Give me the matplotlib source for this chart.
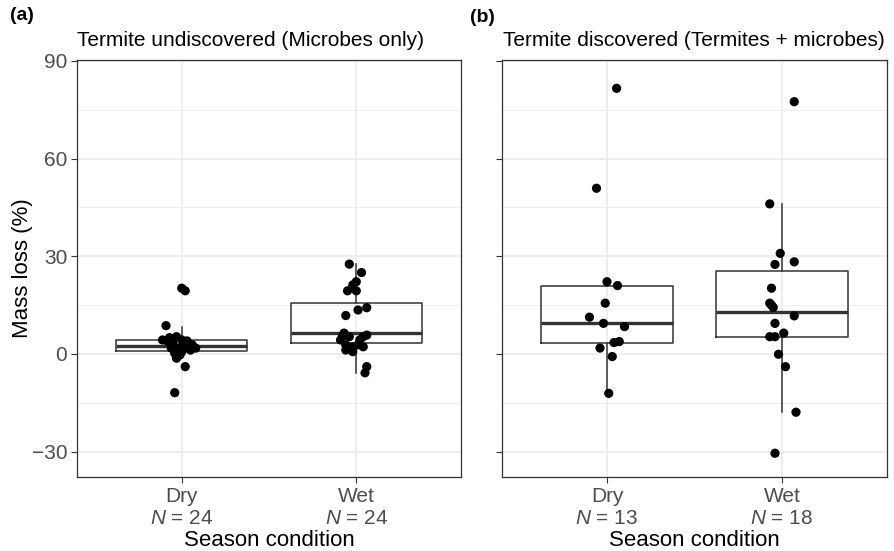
import matplotlib.pyplot as plt
from matplotlib.ticker import MultipleLocator

plt.rcParams['font.family'] = ['Liberation Sans', 'DejaVu Sans']
plt.rcParams['mathtext.fontset'] = 'custom'
plt.rcParams['mathtext.rm'] = 'Liberation Sans'
plt.rcParams['mathtext.it'] = 'Liberation Sans:italic'

# season groups
seasons = ['Dry', 'Wet']
n_a = [24, 24]
n_b = [13, 18]

# panel (a): microbes only, mass loss (%) and horizontal jitter
a_dry = [20.2, 19.4, 8.7, -3.9, -11.9,
         4.3, 5.0, 5.3, 4.3, 3.3, 2.8, 1.8, -0.3, -1.3, 2.8, 3.3, 3.8, 1.8, 1.2, 0.7, 1.8, 1.8, 0.2, 4.0]
a_dry_jit = [0.0, 0.02, -0.09, 0.02, -0.04,
             -0.11, -0.07, -0.03, 0.0, 0.03, 0.06, 0.08, -0.01, -0.03, 0.01, -0.05, -0.08, -0.02, 0.05, 0.0, -0.06, 0.02, -0.04, 0.03]
a_wet = [27.6, 25.0, 22.2, 21.2, 19.4, 19.4, 14.2, 13.5, 11.8, -3.9, -5.8,
         6.4, 4.3, 2.8, 1.2, 2.2, 2.8, 5.3, 4.3, 5.3, 2.2, 0.7, 5.3, 5.8]
a_wet_jit = [-0.04, 0.03, 0.0, -0.02, -0.05, 0.0, 0.06, 0.01, -0.06, 0.06, 0.05,
             -0.07, -0.09, -0.06, -0.06, -0.02, 0.01, 0.04, 0.02, -0.04, 0.04, -0.02, -0.08, 0.06]

# panel (b): termites + microbes
b_dry = [81.6, 50.9, 22.2, 21.0, 15.6, 11.3, 9.4, 8.4, 3.5, 3.8, 1.8, -0.8, -12.1]
b_dry_jit = [0.055, -0.06, 0.0, 0.06, -0.01, -0.10, -0.02, 0.10, 0.04, 0.07, -0.04, 0.03, 0.01]
b_wet = [77.5, 46.1, 30.9, 27.5, 28.3, 20.2, 15.6, 14.3, 15.0, 11.7, 9.4, 5.3, 5.3, 6.4, -0.1, -3.9, -17.9, -30.5]
b_wet_jit = [0.07, -0.07, -0.01, -0.04, 0.07, -0.06, -0.07, -0.05, -0.06, 0.07, -0.04, -0.07, -0.04, 0.01, -0.02, 0.02, 0.08, -0.04]

# box stats: [dry, wet]
a_q1 = [1.0, 3.5]
a_med = [2.5, 6.5]
a_q3 = [4.3, 15.8]
a_lo = [-1.3, -5.8]
a_hi = [8.4, 27.6]
b_q1 = [3.5, 5.3]
b_med = [9.4, 12.8]
b_q3 = [21.0, 25.6]
b_lo = [-12.1, -17.9]
b_hi = [22.2, 46.1]

W, H = 894, 551
fig = plt.figure(figsize=(W / 100, H / 100), dpi=100)
ax_a = fig.add_axes([77 / W, (H - 477) / H, 384 / W, 417 / H])
ax_b = fig.add_axes([502 / W, (H - 477) / H, 385 / W, 417 / H])

grey20 = '#333333'
grey30 = '#4D4D4D'


def draw_panel(ax, groups, jits, q1, med, q3, lo, hi, ns):
    stats = []
    for i in range(2):
        stats.append(dict(q1=q1[i], med=med[i], q3=q3[i], whislo=lo[i], whishi=hi[i]))
    ax.bxp(stats, positions=[1, 2], widths=0.75, showfliers=False, showcaps=False,
           boxprops=dict(color=grey20, lw=1.1),
           whiskerprops=dict(color=grey20, lw=1.1),
           medianprops=dict(color=grey20, lw=2.4), zorder=2)
    for i, (vals, jit) in enumerate(zip(groups, jits)):
        xs = [i + 1 + j for j in jit]
        ax.scatter(xs, vals, s=44, color='black', edgecolors='none', zorder=3)
    ax.set_xlim(0.4, 2.6)
    ax.set_ylim(-37.8, 90.3)
    ax.yaxis.set_major_locator(MultipleLocator(30))
    ax.yaxis.set_minor_locator(MultipleLocator(15))
    ax.grid(True, which='major', color='#EBEBEB', lw=1.2, zorder=0)
    ax.grid(True, which='minor', axis='y', color='#EBEBEB', lw=0.6, zorder=0)
    ax.set_axisbelow(True)
    ax.set_xticks([1, 2])
    ax.set_xticklabels([f'{s}\n$N$ = {n}' for s, n in zip(seasons, ns)])
    ax.tick_params(which='major', length=4, width=0.8, color=grey20,
                   labelsize=15, labelcolor=grey30, pad=3)
    ax.tick_params(which='minor', length=0)
    for sp in ax.spines.values():
        sp.set_color(grey20)
        sp.set_linewidth(0.9)
    ax.set_xlabel('Season condition', fontsize=16, labelpad=2)


draw_panel(ax_a, [a_dry, a_wet], [a_dry_jit, a_wet_jit], a_q1, a_med, a_q3, a_lo, a_hi, n_a)
draw_panel(ax_b, [b_dry, b_wet], [b_dry_jit, b_wet_jit], b_q1, b_med, b_q3, b_lo, b_hi, n_b)
ax_a.set_ylabel('Mass loss (%)', fontsize=16, labelpad=-1)
ax_b.set_yticklabels([])

fig.text(77 / W, 1 - 40 / H, 'Termite undiscovered (Microbes only)', fontsize=15,
         ha='left', va='center')
fig.text(503 / W, 1 - 40 / H, 'Termite discovered (Termites + microbes)', fontsize=15,
         ha='left', va='center')
fig.text(10 / W, 1 - 16 / H, '(a)', fontsize=14, fontweight='bold', ha='left', va='center')
fig.text(470 / W, 1 - 18 / H, '(b)', fontsize=14, fontweight='bold', ha='left', va='center')

fig.savefig('out.png', dpi=100)
